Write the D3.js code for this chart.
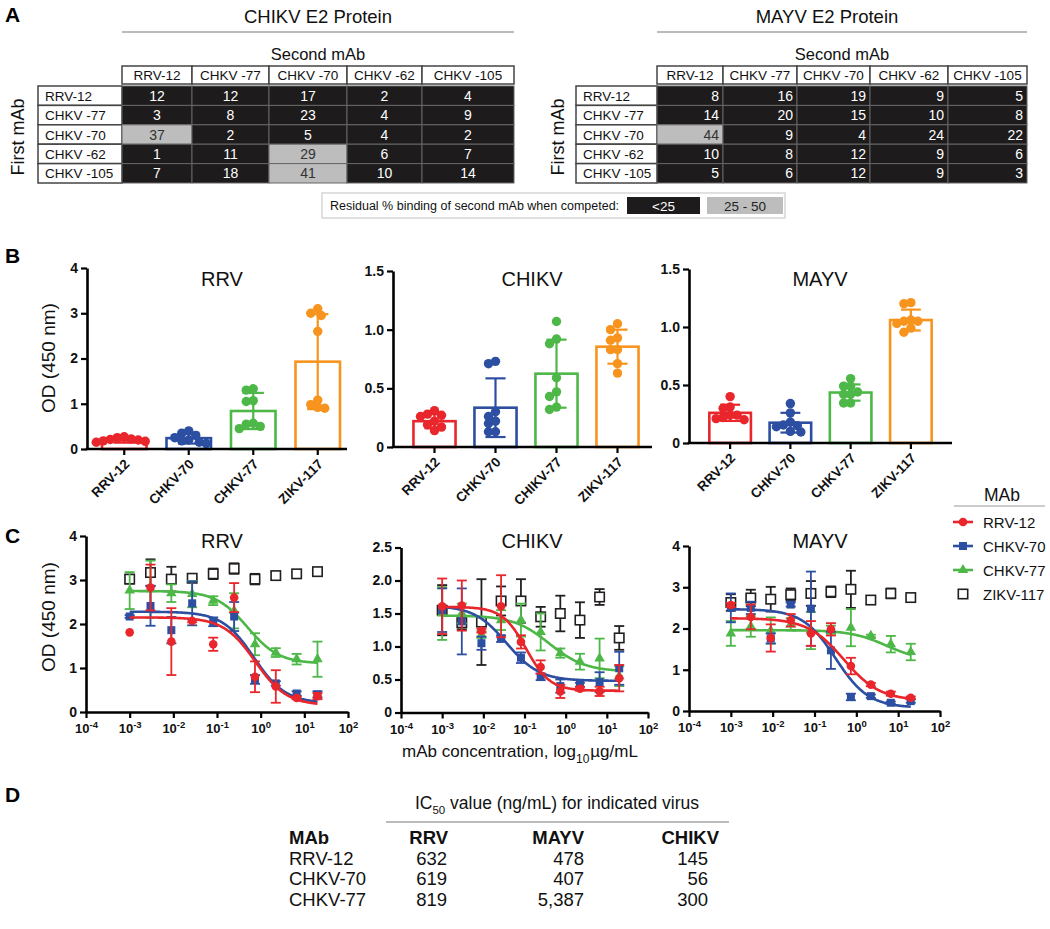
<!DOCTYPE html>
<html><head><meta charset="utf-8">
<script src="https://cdn.jsdelivr.net/npm/d3@7"></script>
<style>
body{margin:0;background:#fff;}
svg{display:block;font-family:"Liberation Sans",Arial,Helvetica,sans-serif;}
</style></head><body><svg id="c" width="1050" height="929"></svg>
<script>
// ---------------- DATA ----------------
// Panel A: competition binding
const compMabs = ["RRV-12","CHKV -77","CHKV -70","CHKV -62","CHKV -105"];
const chikvCompetition = [[12,12,17,2,4],[3,8,23,4,9],[37,2,5,4,2],[1,11,29,6,7],[7,18,41,10,14]];
const mayvCompetition  = [[8,16,19,9,5],[14,20,15,10,8],[44,9,4,24,22],[10,8,12,9,6],[5,6,12,9,3]];
const legendBins = ["<25","25 - 50"];
const legendLabel = "Residual % binding of second mAb when competed:";

// Panel B: ELISA binding
const barMabs = ["RRV-12","CHKV-70","CHKV-77","ZIKV-117"];
const chikvBarLabels = ["RRV-12","CHKV-70","CHIKV-77","ZIKV-117"];
const rrvBarMean = [0.19,0.24,0.84,1.93];
const rrvBarSD   = [0.05,0.12,0.40,1.05];
const rrvBarPoints = [[0.22,0.25,0.18,0.15,0.20,0.27,0.21,0.17],[0.35,0.40,0.30,0.20,0.15,0.18,0.12,0.25],[1.30,1.33,1.07,1.05,0.55,0.45,0.50,0.57],[3.10,3.00,2.95,2.60,0.98,0.90,0.92,1.08]];
const chikvBarMean = [0.22,0.335,0.625,0.855];
const chikvBarSD   = [0.06,0.25,0.29,0.145];
const chikvBarPoints = [[0.31,0.27,0.28,0.26,0.22,0.19,0.14,0.17],[0.71,0.73,0.30,0.26,0.20,0.22,0.13,0.13],[1.07,0.92,0.88,0.59,0.47,0.43,0.32,0.34],[1.05,1.00,0.91,0.93,0.83,0.83,0.71,0.63]];
const mayvBarMean = [0.26,0.175,0.435,1.06];
const mayvBarSD   = [0.07,0.085,0.07,0.09];
const mayvBarPoints = [[0.40,0.31,0.30,0.24,0.21,0.20,0.22,0.24],[0.34,0.26,0.155,0.15,0.18,0.14,0.10,0.095],[0.555,0.49,0.49,0.42,0.44,0.42,0.345,0.345],[1.20,1.21,1.05,1.06,1.05,1.03,0.99,0.955]];

// Panel C: dose response (µg/mL)
const concentrations = [0.001,0.003,0.009,0.027,0.082,0.247,0.741,2.22,6.67,20];
const curveMabs = ["RRV-12","CHKV-70","CHKV-77","ZIKV-117"];
const rrvCurveMean = [[1.81,2.83,1.60,2.07,1.54,2.60,0.80,0.58,0.32,0.36],[2.17,2.41,1.86,2.47,2.05,2.17,0.74,0.65,0.42,0.40],[2.76,2.79,2.70,2.68,2.53,2.30,1.54,1.35,1.20,1.20],[3.02,3.17,3.02,3.04,3.14,3.26,3.02,3.10,3.14,3.19]];
const rrvCurveSD   = [[0,0.52,0.76,0.03,0.15,0.33,0.35,0.37,0.03,0.07],[0.03,0.45,0.30,0.50,0.10,0.33,0.10,0.05,0.05,0.07],[0.42,0.65,0.20,0.30,0.10,0.40,0.25,0.10,0.12,0.40],[0.10,0.30,0.28,0.03,0.12,0.12,0.12,0.08,0.04,0.03]];
const chikvCurveMean = [[1.61,1.62,1.24,1.61,1.07,0.69,0.32,0.36,0.32,0.52],[1.55,1.38,1.05,1.12,0.83,0.54,0.40,0.42,0.46,0.67],[1.50,1.50,1.18,1.40,1.40,1.22,0.90,0.77,0.82,0.55],[1.55,1.36,1.37,1.69,1.69,1.45,1.50,1.40,1.75,1.13]];
const chikvCurveSD   = [[0.42,0.38,0.03,0.47,0.10,0.10,0.10,0.03,0.07,0.20],[0.33,0.50,0.10,0.05,0.08,0.05,0.10,0.03,0.15,0.25],[0.40,0.15,0.05,0.15,0.25,0.28,0.07,0.12,0.30,0.15],[0.38,0.10,0.65,0.22,0.33,0.15,0.27,0.27,0.12,0.18]];
const mayvCurveMean = [[2.57,2.28,1.77,2.20,1.88,1.98,1.09,0.64,0.42,0.32],[2.50,2.50,1.76,2.58,2.48,1.47,0.34,0.36,0.20,0.24],[1.88,2.05,1.95,2.10,1.95,1.97,2.02,1.82,1.62,1.43],[2.63,2.74,2.71,2.82,2.85,2.89,2.95,2.69,2.85,2.75]];
const mayvCurveSD   = [[0.05,0.30,0.33,0.15,0.30,0.15,0.20,0.04,0.05,0.03],[0.35,0.15,0.12,0.05,0.90,0.45,0.08,0.04,0.03,0.04],[0.30,0.25,0.32,0.15,0.45,0.10,0.45,0.03,0.20,0.20],[0.20,0.20,0.30,0.15,0.30,0.13,0.45,0.10,0.12,0.05]];
// 4-parameter fits: [top, bottom, EC50 (µg/mL), Hill slope]
const rrvFits   = [[2.15,0.15,0.75,1.2],[2.28,0.20,0.70,1.2],[2.75,1.10,0.50,1.2]];
const chikvFits = [[1.60,0.33,0.11,1.5],[1.62,0.48,0.037,1.1],[1.47,0.62,0.40,1.0]];
const mayvFits  = [[2.25,0.25,0.50,1.0],[2.47,0.08,0.32,1.1],[1.96,1.20,5.4,1.0]];

// Panel D: IC50 table
const icMabs = ["RRV-12","CHKV-70","CHKV-77"];
const icViruses = ["RRV","MAYV","CHIKV"];
const icRRV = ["632","619","819"];
const icMAYV = ["478","407","5,387"];
const icCHIKV = ["145","56","300"];

// ---------------- STYLE ----------------
const RED="#e8262b", BLUE="#2d4fa2", GREEN="#4db848", ORANGE="#f7941e", BLACK="#231f20";
const barColors = [RED,BLUE,GREEN,ORANGE];
const curveColors = [RED,BLUE,GREEN,BLACK];
const svg = d3.select("#c");
svg.append("rect").attr("width",1050).attr("height",929).attr("fill","#fff");

function txt(g,x,y,s,size,opt={}){
  const t=g.append("text").attr("x",x).attr("y",y).text(s).attr("font-size",size).attr("fill",opt.fill||"#111");
  if(opt.anchor) t.attr("text-anchor",opt.anchor);
  if(opt.bold) t.attr("font-weight","bold");
  if(opt.rot!==undefined) t.attr("transform",`rotate(${opt.rot},${x},${y})`);
  if(opt.db) t.attr("dominant-baseline",opt.db);
  return t;
}

// Panel letters
[["A",22],["B",263],["C",543],["D",802]].forEach(([l,y])=>txt(svg,5,y,l,21,{bold:true,fill:"#000"}));

// ---------------- PANEL A ----------------
const shade = d3.scaleThreshold().domain([25]).range(["#1d1b1c","#bdbdbd"]);
function drawTable(title, data, colEdges, labelX0, titleX, lineX0, lineX1, rightAlign, firstX){
  const g = svg.append("g");
  txt(g,titleX,23,title,18.5,{anchor:"middle"});
  g.append("line").attr("x1",lineX0).attr("x2",lineX1).attr("y1",32).attr("y2",32).attr("stroke","#bbb").attr("stroke-width",2);
  txt(g,(colEdges[0]+colEdges[5])/2,60,"Second mAb",16.5,{anchor:"middle"});
  txt(g,firstX,137,"First mAb",18,{anchor:"middle",rot:-90,db:"central"});
  const colX = d3.scaleOrdinal().domain(compMabs).range(colEdges.slice(0,5));
  const colW = d3.scaleOrdinal().domain(compMabs).range(colEdges.slice(1).map((e,i)=>e-colEdges[i]));
  const row = d3.scaleBand().domain(compMabs).range([86,183]);
  compMabs.forEach(m=>{
    g.append("rect").attr("x",colX(m)).attr("y",66).attr("width",colW(m)).attr("height",18).attr("fill","#fff").attr("stroke","#444").attr("stroke-width",1.5);
    txt(g,colX(m)+colW(m)/2,80,m,13.5,{anchor:"middle"});
  });
  compMabs.forEach((r,i)=>{
    g.append("rect").attr("x",labelX0).attr("y",row(r)).attr("width",colEdges[0]-labelX0).attr("height",row.bandwidth()).attr("fill","#fff").attr("stroke","#444").attr("stroke-width",1.5);
    txt(g,labelX0+7,row(r)+row.bandwidth()/2+5,r,13.5);
    compMabs.forEach((c,j)=>{
      const v=data[i][j];
      g.append("rect").attr("x",colX(c)).attr("y",row(r)).attr("width",colW(c)).attr("height",row.bandwidth()).attr("fill",shade(v)).attr("stroke","#666").attr("stroke-width",1);
      const tx = rightAlign ? colX(c)+colW(c)-4 : colX(c)+colW(c)/2;
      txt(g,tx,row(r)+row.bandwidth()/2+5,String(v),14,{anchor:rightAlign?"end":"middle",fill:v<25?"#fff":"#333"});
    });
  });
}
drawTable("CHIKV E2 Protein", chikvCompetition, [122,192,269,347,422,514], 38, 318, 122, 514, false, 18);
drawTable("MAYV E2 Protein", mayvCompetition, [657,723,797,870,948,1027], 576, 827, 657, 1027, true, 558);
{
  const g=svg.append("g");
  g.append("rect").attr("x",322).attr("y",193).attr("width",463).attr("height",25).attr("fill","#fff").attr("stroke","#ccc").attr("stroke-width",1.2);
  txt(g,330,210,legendLabel,12.5);
  const lx = d3.scaleOrdinal().domain(legendBins).range([627,707]);
  const lw = d3.scaleOrdinal().domain(legendBins).range([73,76]);
  legendBins.forEach((b,i)=>{
    g.append("rect").attr("x",lx(b)).attr("y",197).attr("width",lw(b)).attr("height",17).attr("fill",i===0?"#1d1b1c":"#bdbdbd");
    txt(g,lx(b)+lw(b)/2,210.5,b,13.5,{anchor:"middle",fill:i===0?"#fff":"#222"});
  });
}

// ---------------- PANEL B ----------------
function swarm(vals, y, minD, step){
  const order = vals.map((v,i)=>i).sort((a,b)=>vals[b]-vals[a]);
  const offs=[0]; for(let k=1;k<10;k++){offs.push(-k*step,k*step);}
  const placed=[], res=[];
  order.forEach(i=>{
    const py=y(vals[i]);
    for(const o of offs){
      if(placed.every(p=>(p.x-o)**2+(p.y-py)**2>=minD*minD)){res[i]=o;placed.push({x:o,y:py});break;}
    }
  });
  return res;
}
function yAxisStyle(a){
  a.select(".domain").attr("stroke","#000").attr("stroke-width",2.6);
  a.selectAll(".tick line").attr("stroke","#000").attr("stroke-width",2.2);
  a.selectAll(".tick text").attr("font-size",14).attr("font-weight","bold").attr("fill","#111").attr("font-family",null);
}
function barChart(c){
  const g=svg.append("g");
  const x=d3.scaleBand().domain(barMabs).range([c.b0,c.b1]);
  const y=d3.scaleLinear().domain([0,c.ymax]).range([c.yb,c.yt]);
  const ya=g.append("g").attr("transform",`translate(${c.x0},0)`).call(d3.axisLeft(y).tickValues(c.ticks).tickFormat(c.fmt).tickSize(6).tickSizeOuter(0).tickPadding(3));
  yAxisStyle(ya);
  const bw=x.bandwidth()*0.69, cap=x.bandwidth()*0.33;
  barMabs.forEach((m,i)=>{
    const cx=x(m)+x.bandwidth()/2, col=barColors[i];
    g.append("rect").attr("x",cx-bw/2).attr("y",y(c.mean[i])).attr("width",bw).attr("height",y(0)-y(c.mean[i])).attr("fill","#fff").attr("stroke",col).attr("stroke-width",2.6);
    const lo=y(c.mean[i]-c.sd[i]), hi=y(c.mean[i]+c.sd[i]);
    g.append("line").attr("x1",cx).attr("x2",cx).attr("y1",lo).attr("y2",hi).attr("stroke",col).attr("stroke-width",2.2);
    [lo,hi].forEach(yy=>g.append("line").attr("x1",cx-cap/2).attr("x2",cx+cap/2).attr("y1",yy).attr("y2",yy).attr("stroke",col).attr("stroke-width",2.2));
    const offs=swarm(c.pts[i],y,7,3.5);
    c.pts[i].forEach((v,k)=>g.append("circle").attr("cx",cx+offs[k]).attr("cy",y(v)).attr("r",4.7).attr("fill",col));
  });
  const labelOf=d3.scaleOrdinal().domain(barMabs).range(c.labels);
  const xa=g.append("g").attr("transform",`translate(0,${c.yb})`).call(d3.axisBottom(x).tickSize(6).tickSizeOuter(0).tickFormat(labelOf));
  xa.select(".domain").remove();
  xa.selectAll(".tick line").attr("stroke","#000").attr("stroke-width",2.2);
  xa.selectAll(".tick text").attr("x",0).attr("y",0).attr("dy",null).attr("transform","translate(6,16) rotate(-45)")
    .style("text-anchor","end").attr("font-size",13.5).attr("font-weight","bold").attr("fill","#111").attr("font-family",null);
  g.append("line").attr("x1",c.x0-1.3).attr("x2",c.xEnd).attr("y1",c.yb).attr("y2",c.yb).attr("stroke","#000").attr("stroke-width",2.6);
  txt(g,c.tx,286,c.title,20,{anchor:"middle"});
}
const fmtDec = v=>v===0?"0":d3.format(".1f")(v);
barChart({x0:87,xEnd:347,b0:92,b1:350,yb:449,yt:268,ymax:4,ticks:[0,1,2,3,4],fmt:d3.format("d"),title:"RRV",tx:222,mean:rrvBarMean,sd:rrvBarSD,pts:rrvBarPoints,labels:barMabs});
barChart({x0:393,xEnd:652,b0:404,b1:648,yb:447,yt:271,ymax:1.5,ticks:[0,0.5,1,1.5],fmt:fmtDec,title:"CHIKV",tx:532,mean:chikvBarMean,sd:chikvBarSD,pts:chikvBarPoints,labels:chikvBarLabels});
barChart({x0:689,xEnd:952,b0:700,b1:941,yb:443,yt:269,ymax:1.5,ticks:[0,0.5,1,1.5],fmt:fmtDec,title:"MAYV",tx:820,mean:mayvBarMean,sd:mayvBarSD,pts:mayvBarPoints,labels:barMabs});
txt(svg,48,358,"OD (450 nm)",19,{anchor:"middle",rot:-90,db:"central"});

// ---------------- PANEL C ----------------
function marker(g,i,cx,cy,col){
  if(i===0) g.append("circle").attr("cx",cx).attr("cy",cy).attr("r",4.3).attr("fill",col);
  else if(i===1) g.append("rect").attr("x",cx-4).attr("y",cy-4).attr("width",8).attr("height",8).attr("fill",col);
  else if(i===2) g.append("path").attr("d",d3.symbol(d3.symbolTriangle,48)()).attr("transform",`translate(${cx},${cy})`).attr("fill",col);
  else g.append("rect").attr("x",cx-4.7).attr("y",cy-4.7).attr("width",9.4).attr("height",9.4).attr("fill","#fff").attr("stroke",col).attr("stroke-width",1.6);
}
function curveChart(c){
  const g=svg.append("g");
  const x=d3.scaleLog().domain([1e-4,1e2]).range([c.x0,c.x1]);
  const y=d3.scaleLinear().domain([0,c.ymax]).range([c.yb,c.yt]);
  const ya=g.append("g").attr("transform",`translate(${c.x0},0)`).call(d3.axisLeft(y).tickValues(c.ticks).tickFormat(c.fmt).tickSize(6).tickSizeOuter(0).tickPadding(3));
  yAxisStyle(ya);
  const xa=g.append("g").attr("transform",`translate(0,${c.yb})`).call(d3.axisBottom(x).tickValues([1e-4,1e-3,1e-2,1e-1,1,10,100]).tickSize(6).tickSizeOuter(0));
  xa.select(".domain").attr("stroke","#000").attr("stroke-width",2.6);
  xa.selectAll(".tick line").attr("stroke","#000").attr("stroke-width",2.2);
  xa.selectAll(".tick text").each(function(d){
    const t=d3.select(this).text("").attr("font-size",13).attr("font-weight","bold").attr("fill","#111").attr("font-family",null).attr("y",12).attr("dy","0.71em");
    t.append("tspan").text("10");
    t.append("tspan").text(String(Math.round(Math.log10(d)))).attr("font-size",9.5).attr("dy","-0.55em");
  });
  const order=[3,2,1,0];
  const grid=d3.range(0,201).map(k=>Math.pow(10,Math.log10(0.001)+k*(Math.log10(20)-Math.log10(0.001))/200));
  order.forEach(i=>{
    const col=curveColors[i];
    concentrations.forEach((cc,k)=>{
      const m=c.mean[i][k], s=c.sd[i][k];
      if(s>0){
        const cx=x(cc), lo=y(m-s), hi=y(m+s);
        g.append("line").attr("x1",cx).attr("x2",cx).attr("y1",lo).attr("y2",hi).attr("stroke",col).attr("stroke-width",1.8);
        [lo,hi].forEach(yy=>g.append("line").attr("x1",cx-5).attr("x2",cx+5).attr("y1",yy).attr("y2",yy).attr("stroke",col).attr("stroke-width",1.8));
      }
    });
    if(i<3){
      const [top,bot,ec,h]=c.fits[i];
      const line=d3.line().x(v=>x(v)).y(v=>y(bot+(top-bot)/(1+Math.pow(v/ec,h))));
      g.append("path").attr("d",line(grid)).attr("fill","none").attr("stroke",col).attr("stroke-width",2.6);
    }
    concentrations.forEach((cc,k)=>marker(g,i,x(cc),y(c.mean[i][k]),col));
  });
  txt(g,c.tx,548,c.title,20,{anchor:"middle"});
}
curveChart({x0:86,x1:348,yb:712,yt:536,ymax:4,ticks:[0,1,2,3,4],fmt:d3.format("d"),title:"RRV",tx:222,mean:rrvCurveMean,sd:rrvCurveSD,fits:rrvFits});
curveChart({x0:401,x1:648,yb:712.5,yt:547.5,ymax:2.5,ticks:[0,0.5,1,1.5,2,2.5],fmt:fmtDec,title:"CHIKV",tx:532,mean:chikvCurveMean,sd:chikvCurveSD,fits:chikvFits});
curveChart({x0:689,x1:940,yb:711,yt:546,ymax:4,ticks:[0,1,2,3,4],fmt:d3.format("d"),title:"MAYV",tx:820,mean:mayvCurveMean,sd:mayvCurveSD,fits:mayvFits});
txt(svg,48,617,"OD (450 nm)",19,{anchor:"middle",rot:-90,db:"central"});
{
  const t=svg.append("text").attr("x",520).attr("y",757).attr("text-anchor","middle").attr("font-size",17).attr("fill","#111");
  t.append("tspan").text("mAb concentration, log");
  t.append("tspan").text("10").attr("font-size",12).attr("dy",6);
  t.append("tspan").text("µg/mL").attr("dy",-6).attr("dx",1);
}
{
  const g=svg.append("g");
  txt(g,1002,501,"MAb",17.5,{anchor:"middle"});
  g.append("line").attr("x1",954).attr("x2",1045).attr("y1",506).attr("y2",506).attr("stroke","#bbb").attr("stroke-width",1.5);
  const ly=d3.scalePoint().domain(curveMabs).range([522,594]);
  curveMabs.forEach((m,i)=>{
    const yy=ly(m), col=curveColors[i];
    if(i<3) g.append("line").attr("x1",953).attr("x2",973).attr("y1",yy).attr("y2",yy).attr("stroke",col).attr("stroke-width",2.6);
    marker(g,i,963,yy,col);
    txt(g,983,yy+5.5,m,15);
  });
}

// ---------------- PANEL D ----------------
{
  const g=svg.append("g");
  const t=g.append("text").attr("x",557).attr("y",809).attr("text-anchor","middle").attr("font-size",17.5).attr("fill","#111");
  t.append("tspan").text("IC");
  t.append("tspan").text("50").attr("font-size",11.5).attr("dy",5);
  t.append("tspan").text(" value (ng/mL) for indicated virus").attr("dy",-5);
  g.append("line").attr("x1",386).attr("x2",729).attr("y1",822).attr("y2",822).attr("stroke","#bbb").attr("stroke-width",2);
  const row=d3.scaleBand().domain(["MAb"].concat(icMabs)).range([828,910]);
  const yOf=m=>row(m)+row.bandwidth()/2+6;
  const colRight=d3.scaleOrdinal().domain(icViruses).range([448,584,719]);
  const valRight=d3.scaleOrdinal().domain(icViruses).range([447,584,708]);
  txt(g,289,yOf("MAb"),"MAb",18.5,{bold:true,fill:"#111"});
  icViruses.forEach(v=>txt(g,colRight(v),yOf("MAb"),v,18.5,{bold:true,anchor:"end"}));
  const cols=[icRRV,icMAYV,icCHIKV];
  icMabs.forEach((m,i)=>{
    txt(g,289,yOf(m),m,18.5);
    icViruses.forEach((v,j)=>txt(g,valRight(v),yOf(m),cols[j][i],18.5,{anchor:"end"}));
  });
}
</script></body></html>
